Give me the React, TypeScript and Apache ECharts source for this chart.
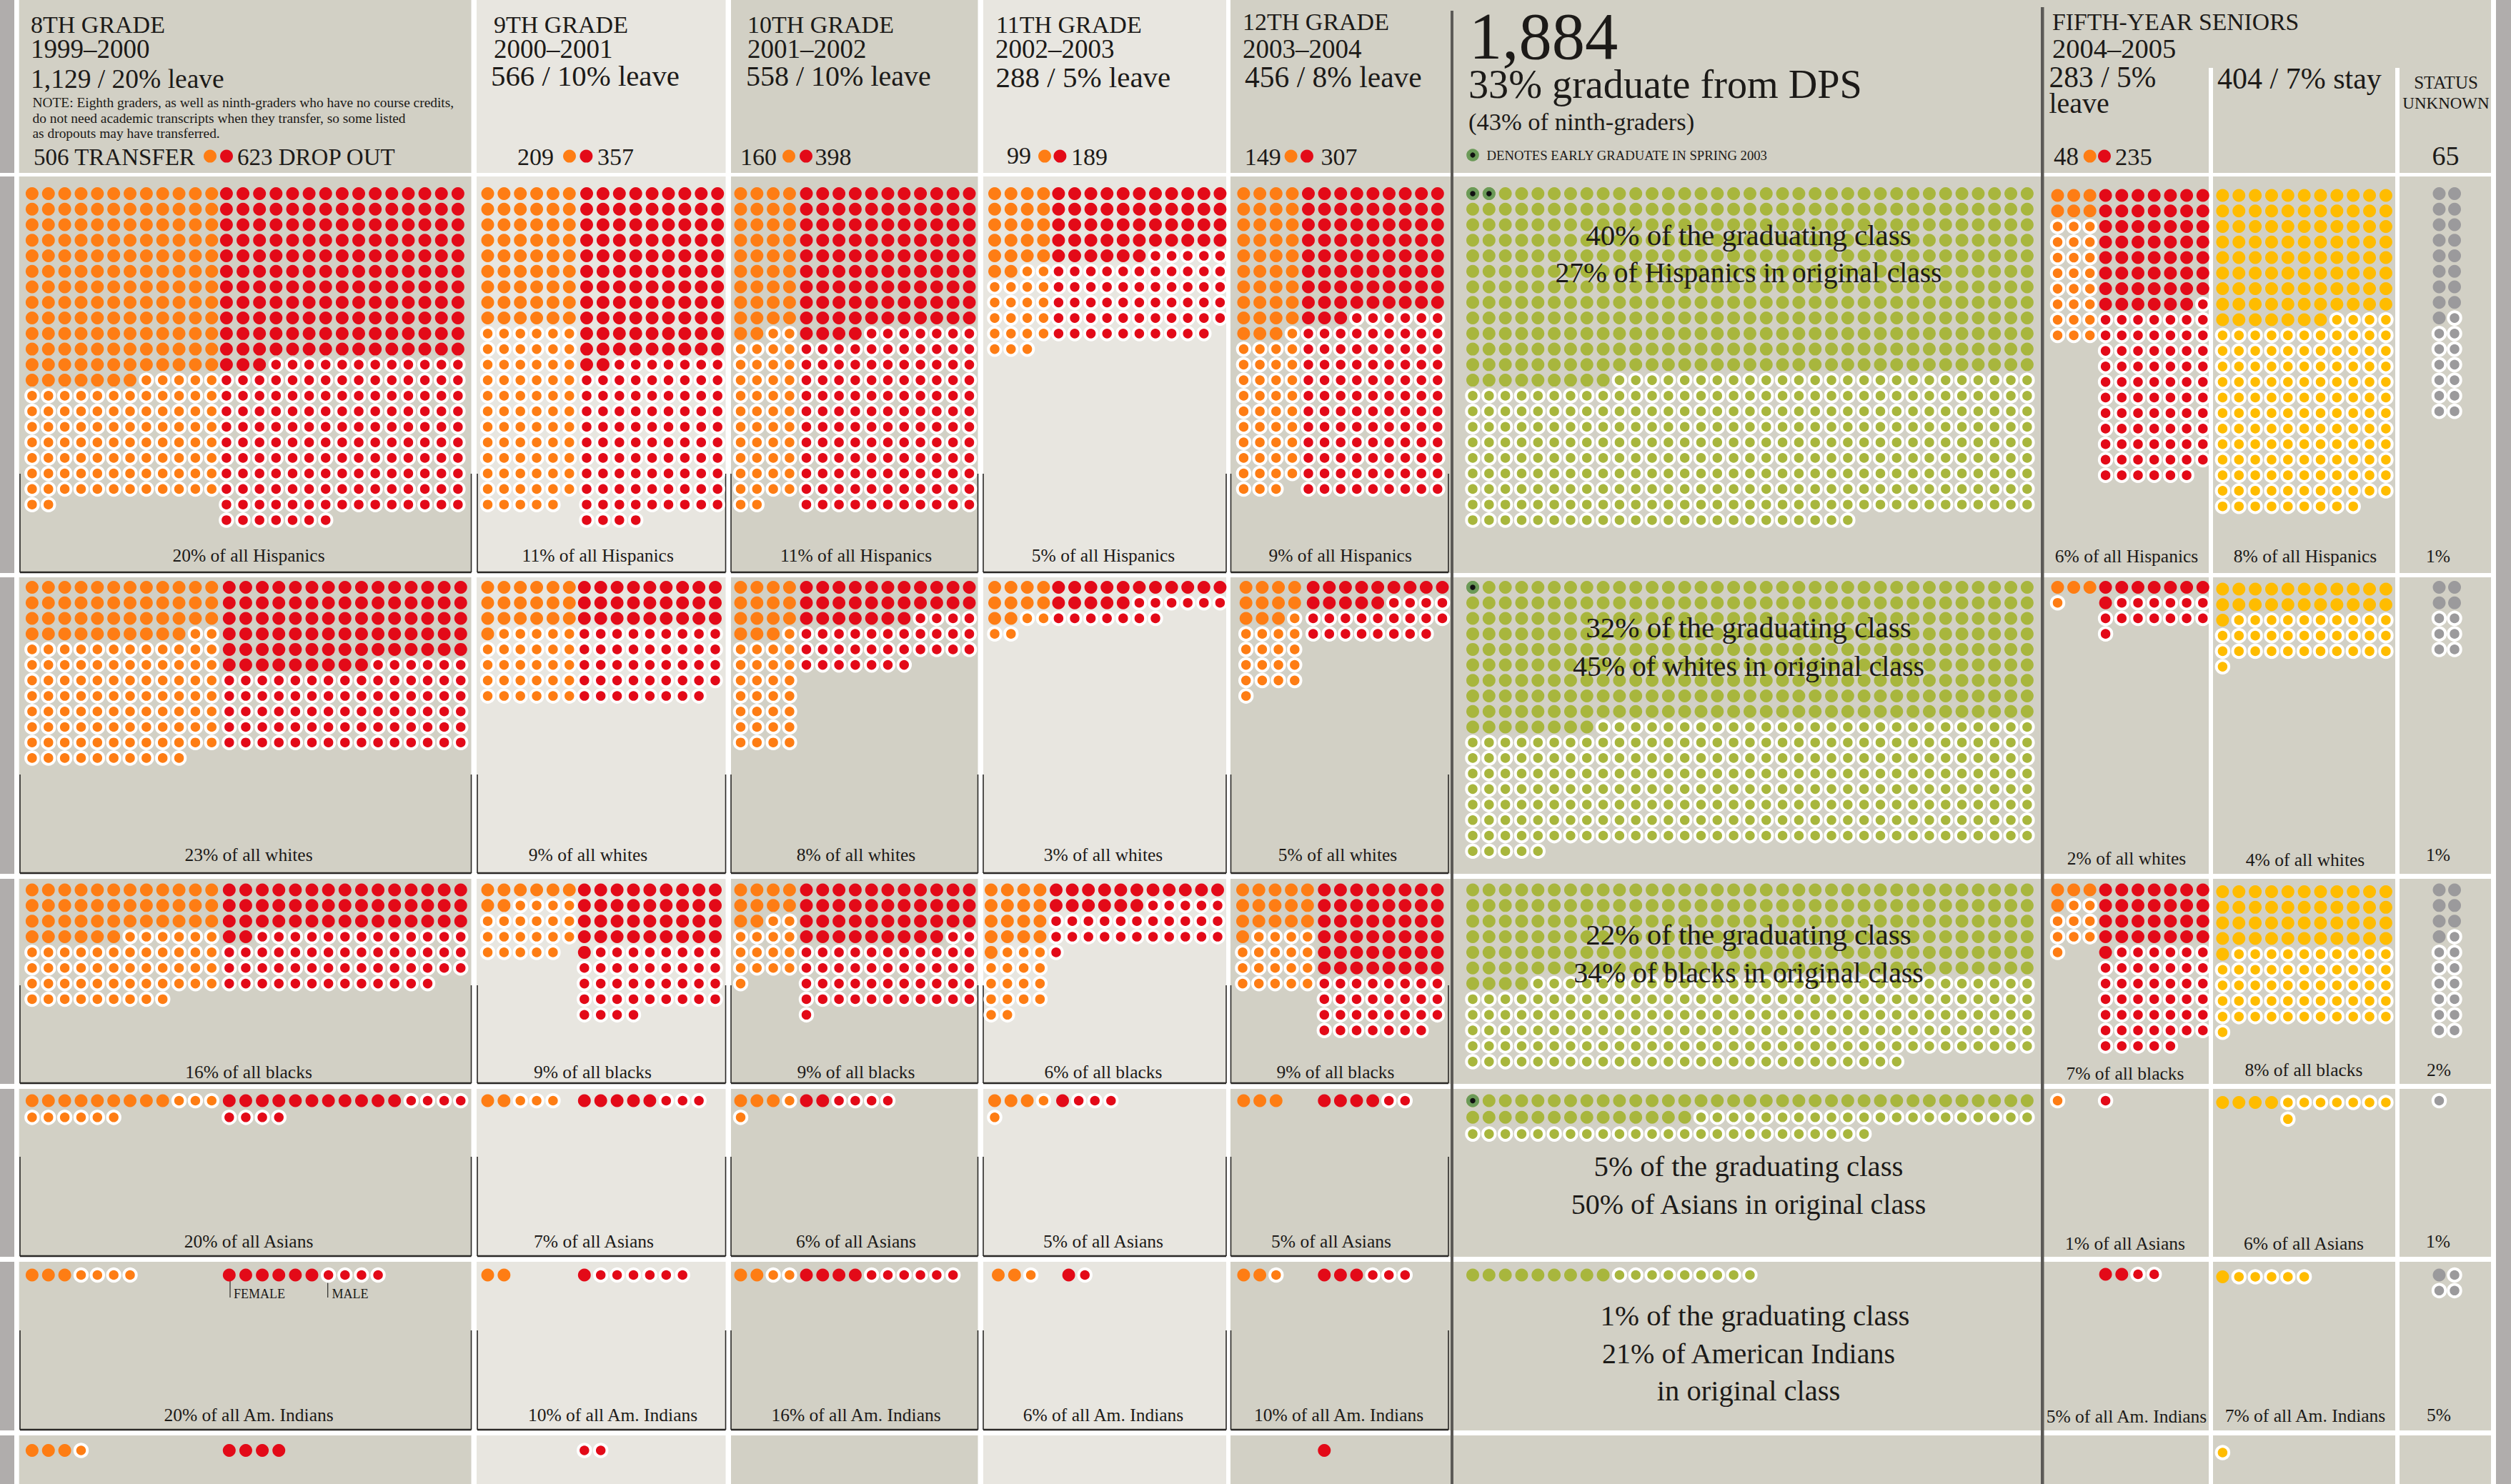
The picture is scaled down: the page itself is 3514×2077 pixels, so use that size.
import React, { useEffect, useRef } from "react";
import * as echarts from "echarts";

// [coloured = filled dots, total dots] per race: Hispanics, whites, blacks, Asians, Am. Indians, other
const grade8Transfer = [[151, 242], [46, 142], [42, 93], [9, 18], [3, 7], [3, 4]];
const grade8Dropout = [[168, 322], [84, 165], [47, 103], [11, 19], [6, 10], [4, 4]];
const grade9Transfer = [[54, 125], [19, 48], [8, 29], [2, 5], [2, 2], [0, 0]];
const grade9Dropout = [[101, 193], [27, 71], [37, 76], [5, 8], [1, 7], [0, 2]];
const grade10Transfer = [[38, 82], [15, 44], [10, 25], [3, 5], [2, 4], [0, 0]];
const grade10Dropout = [[103, 231], [29, 62], [42, 89], [2, 6], [4, 10], [0, 0]];
const grade11Transfer = [[22, 43], [10, 14], [17, 34], [3, 5], [2, 3], [0, 0]];
const grade11Dropout = [[50, 109], [16, 29], [17, 45], [1, 4], [1, 2], [0, 0]];
const grade12Transfer = [[39, 79], [11, 29], [16, 35], [3, 3], [2, 3], [0, 0]];
const grade12Dropout = [[75, 180], [14, 35], [48, 79], [4, 6], [3, 6], [1, 1]];
const graduates = [[429, 759], [323, 600], [214, 412], [49, 95], [9, 18], [0, 0]];
const earlyGraduates = [2, 1, 0, 1, 0, 0];
const fifthTransfer = [[6, 30], [3, 4], [4, 13], [0, 1], [0, 0], [0, 0]];
const fifthDropout = [[55, 132], [8, 22], [29, 75], [0, 1], [2, 4], [0, 0]];
const fifthStay = [[95, 229], [23, 56], [45, 100], [4, 12], [1, 6], [0, 1]];
const statusUnknown = [[17, 30], [4, 10], [7, 20], [0, 1], [1, 4], [0, 0]];

const C = {
  dark: "#d2d0c5", light: "#e8e6e0", margin: "#b0adac", ink: "#1c1a18", line: "#5c5a57",
  orange: "#fe7d14", red: "#e30a18", yellow: "#ffbc00", green: "#a8b63d", grey: "#9b9a9c", early: "#6b9a58",
};
const FONT = "Liberation Serif";

// Layout of the dot blocks
const rowY = [271, 822, 1245.5, 1540.5, 1784.5, 2030];
const rowPitch = [21.76, 21.72, 21.85, 23.3, 21.8, 21.8];
type Block = {
  data: number[][]; color: string; cols: number[] | number; x: number[] | number; dx: number;
  dy?: number[]; wrapCol?: Record<number, number>;
};
const blocks: Block[] = [
  { data: grade8Transfer, color: C.orange, cols: 12, x: 44.9, dx: 22.85 },
  { data: grade8Dropout, color: C.red, cols: 15, x: [316.9, 320.8, 320.8, 320.8, 320.8, 320.8], dx: 23.14 },
  { data: grade9Transfer, color: C.orange, cols: 6, x: 682.5, dx: 22.85 },
  { data: grade9Dropout, color: C.red, cols: 9, x: [821, 817.8, 817.8, 817.8, 817.8, 817.8], dx: 22.9 },
  { data: grade10Transfer, color: C.orange, cols: 4, x: 1036.5, dx: 22.8 },
  { data: grade10Dropout, color: C.red, cols: 11, x: 1128.5, dx: 22.8 },
  { data: grade11Transfer, color: C.orange, cols: 4, x: [1392, 1392, 1387, 1392, 1397, 1392], dx: 22.8 },
  { data: grade11Dropout, color: C.red, cols: 11, x: [1481.4, 1481.4, 1478, 1487, 1495.6, 1481], dx: 22.6 },
  { data: grade12Transfer, color: C.orange, cols: [4, 4, 5, 4, 4, 4], x: [1740.4, 1743.7, 1739, 1740.4, 1740.4, 1740], dx: 22.7 },
  { data: grade12Dropout, color: C.red, cols: [9, 9, 8, 8, 8, 8], x: [1831, 1837.7, 1853.3, 1853.3, 1853.3, 1853.3], dx: 22.6 },
  { data: graduates, color: C.green, cols: 35, x: 2061, dx: 22.82 },
  { data: fifthTransfer, color: C.orange, cols: 3, x: 2879.5, dx: 22.6, dy: [2.5, 0, 0, 0, -1, 0] },
  { data: fifthDropout, color: C.red, cols: 7, x: 2946.6, dx: 22.7, dy: [2.5, 0, 0, 0, -1, 0] },
  { data: fifthStay, color: C.yellow, cols: 11, x: 3110.4, dx: 22.85, dy: [2.5, 2.5, 2.5, 2.5, 2.5, 3], wrapCol: { 3: 4 } },
  { data: statusUnknown, color: C.grey, cols: 2, x: 3413.5, dx: 21.5 },
];

function buildDots() {
  const groups: Record<string, { filled: number[][]; hollow: number[][] }> = {};
  const early: number[][] = [];
  blocks.forEach((b) => {
    const g = (groups[b.color] = groups[b.color] || { filled: [], hollow: [] });
    b.data.forEach(([filled, total], race) => {
      const cols = Array.isArray(b.cols) ? b.cols[race] : b.cols;
      const x0 = Array.isArray(b.x) ? b.x[race] : b.x;
      const y0 = rowY[race] + (b.dy ? b.dy[race] : 0);
      const wrap = race === 3 && b.wrapCol ? b.wrapCol[race] : 0;
      for (let i = 0; i < total; i++) {
        const r = Math.floor(i / cols);
        const c = i % cols + (r > 0 ? wrap : 0);
        const pt = [x0 + c * b.dx, y0 + r * rowPitch[race]];
        (i < filled ? g.filled : g.hollow).push(pt);
        if (b.data === graduates && i < earlyGraduates[race]) early.push(pt);
      }
    });
  });
  return { groups, early };
}

// Panel backgrounds
const bands = [[0, 242], [247, 802], [808, 1223], [1230, 1517], [1524, 1759], [1766, 2002], [2009, 2077]];
const panelCols: [number, number, string][] = [
  [0, 20, C.margin], [26.7, 659.5, C.dark], [667, 1015.5, C.light], [1023, 1368.5, C.dark], [1376, 1716, C.light], [1722, 2858, C.dark],
  [2858, 3486, C.dark],
];
const bracketTop = [663, 1084, 1379, 1619, 1862];
const bracketBottom = [801, 1222, 1516, 1758, 2001];
const bracketCols = [[28, 659.5], [668, 1015.5], [1023, 1368.5], [1376, 1716], [1722.5, 2027]];

type T = [number, number, string, number, string?];
const headerTexts: T[] = [
  [43, 46, "8TH GRADE", 34], [43, 81, "1999–2000", 37], [43, 123, "1,129 / 20% leave", 37.5],
  [45.5, 150, "NOTE: Eighth graders, as well as ninth-graders who have no course credits,", 19.4],
  [45.5, 172, "do not need academic transcripts when they transfer, so some listed", 19.4],
  [45.5, 193, "as dropouts may have transferred.", 19.4],
  [47, 231, "506 TRANSFER", 33], [332, 231, "623 DROP OUT", 33],
  [691, 46, "9TH GRADE", 34], [691, 81, "2000–2001", 37], [687, 120, "566 / 10% leave", 40.8],
  [724, 231, "209", 34], [836, 231, "357", 34],
  [1046, 46, "10TH GRADE", 34], [1046, 81, "2001–2002", 37], [1044, 120, "558 / 10% leave", 40],
  [1036, 231, "160", 34], [1140.6, 231, "398", 34],
  [1394, 46, "11TH GRADE", 34], [1393, 81, "2002–2003", 37], [1393.5, 122, "288 / 5% leave", 41],
  [1409, 229, "99", 34], [1499, 231, "189", 34],
  [1739, 42, "12TH GRADE", 34], [1739, 81, "2003–2004", 37], [1742, 122, "456 / 8% leave", 41.5],
  [1741.7, 231, "149", 34], [1848.5, 231, "307", 34],
  [2056, 82.5, "1,884", 92.5], [2055, 137, "33% graduate from DPS", 56.2], [2055, 182, "(43% of ninth-graders)", 34.5],
  [2080.5, 224, "DENOTES EARLY GRADUATE IN SPRING 2003", 18.7],
  [2872, 42, "FIFTH-YEAR SENIORS", 33.7], [2872, 81, "2004–2005", 38.5],
  [2867.5, 122.5, "283 / 5%", 41.5], [2867.5, 158, "leave", 40], [3103, 124.5, "404 / 7% stay", 42],
  [2874, 231, "48", 35], [2960, 231, "235", 34.5],
  [3423, 124, "STATUS", 25, "center"], [3423, 152, "UNKNOWN", 23, "center"], [3422.5, 231, "65", 38, "center"],
  [327, 1817, "FEMALE", 18], [464.5, 1817, "MALE", 18],
];
const LBL = 25.5;
const rowLabelTexts: T[] = [
  [348, 786, "20% of all Hispanics", LBL, "center"], [836.7, 786, "11% of all Hispanics", LBL, "center"],
  [1198, 786, "11% of all Hispanics", LBL, "center"], [1544, 786, "5% of all Hispanics", LBL, "center"],
  [1875.6, 786, "9% of all Hispanics", LBL, "center"], [2976, 787, "6% of all Hispanics", LBL, "center"],
  [3226, 787, "8% of all Hispanics", LBL, "center"], [3412, 787, "1%", LBL, "center"],
  [348, 1205.5, "23% of all whites", LBL, "center"], [823, 1205.5, "9% of all whites", LBL, "center"],
  [1198, 1205.5, "8% of all whites", LBL, "center"], [1544, 1205.5, "3% of all whites", LBL, "center"],
  [1872, 1205.5, "5% of all whites", LBL, "center"], [2976, 1210, "2% of all whites", LBL, "center"],
  [3226, 1212, "4% of all whites", LBL, "center"], [3412, 1205, "1%", LBL, "center"],
  [348, 1509, "16% of all blacks", LBL, "center"], [829.5, 1509, "9% of all blacks", LBL, "center"],
  [1198, 1509, "9% of all blacks", LBL, "center"], [1544, 1509, "6% of all blacks", LBL, "center"],
  [1869, 1509, "9% of all blacks", LBL, "center"], [2974, 1511, "7% of all blacks", LBL, "center"],
  [3224, 1506.5, "8% of all blacks", LBL, "center"], [3413, 1506, "2%", LBL, "center"],
  [348, 1746, "20% of all Asians", LBL, "center"], [831, 1746, "7% of all Asians", LBL, "center"],
  [1198, 1746, "6% of all Asians", LBL, "center"], [1544, 1746, "5% of all Asians", LBL, "center"],
  [1863, 1746, "5% of all Asians", LBL, "center"], [2974, 1749, "1% of all Asians", LBL, "center"],
  [3224, 1749, "6% of all Asians", LBL, "center"], [3412, 1746, "1%", LBL, "center"],
  [348, 1989, "20% of all Am. Indians", LBL, "center"], [857.5, 1989, "10% of all Am. Indians", LBL, "center"],
  [1198, 1989, "16% of all Am. Indians", LBL, "center"], [1544, 1989, "6% of all Am. Indians", LBL, "center"],
  [1873.5, 1989, "10% of all Am. Indians", LBL, "center"], [2976, 1991.5, "5% of all Am. Indians", LBL, "center"],
  [3226, 1990, "7% of all Am. Indians", LBL, "center"], [3413, 1989, "5%", LBL, "center"],
];
const gradTexts: T[] = [
  [2447, 343, "40% of the graduating class", 41, "center"], [2447, 395, "27% of Hispanics in original class", 39.5, "center"],
  [2447, 892, "32% of the graduating class", 41, "center"], [2447, 946, "45% of whites in original class", 39.8, "center"],
  [2447, 1322, "22% of the graduating class", 41, "center"], [2447, 1375, "34% of blacks in original class", 39.8, "center"],
  [2447, 1646, "5% of the graduating class", 40.8, "center"], [2447, 1699, "50% of Asians in original class", 40, "center"],
  [2456, 1855, "1% of the graduating class", 40.8, "center"], [2447, 1908, "21% of American Indians", 40, "center"],
  [2447, 1960, "in original class", 40.5, "center"],
];
const legendDots: [number, number, string][] = [
  [294, 218.6, C.orange], [317, 218.6, C.red], [797, 218.6, C.orange], [820.4, 218.6, C.red],
  [1104, 218.6, C.orange], [1128, 218.6, C.red], [1462, 218.6, C.orange], [1483.4, 218.6, C.red],
  [1806.6, 218.6, C.orange], [1829, 218.6, C.red], [2924.7, 218.6, C.orange], [2945, 218.6, C.red],
];

function buildGraphic() {
  const els: any[] = [];
  const rect = (x: number, y: number, w: number, h: number, fill: string, z = 0) =>
    els.push({ type: "rect", z, silent: true, shape: { x, y, width: w, height: h }, style: { fill } });
  const line = (x1: number, y1: number, x2: number, y2: number, w = 1.6) =>
    els.push({ type: "line", z: 1, silent: true, shape: { x1, y1, x2, y2 }, style: { stroke: "#2a2826", lineWidth: w } });
  panelCols.forEach(([x0, x1, fill]) => bands.forEach(([y0, y1]) => rect(x0, y0, x1 - x0, y1 - y0, fill)));
  rect(3493, 0, 21, 2077, C.margin);
  rect(3091, 95, 6, 1982, "#ffffff", 1);
  rect(3352, 95, 6, 1982, "#ffffff", 1);
  rect(2030, 15, 4, 2062, C.line, 30);
  rect(2856, 10, 4.5, 2067, C.line, 30);
  bracketTop.forEach((top, i) => {
    const bottom = bracketBottom[i];
    bracketCols.forEach(([a, b]) => {
      line(a, top, a, bottom);
      line(b, top, b, bottom);
      line(a, bottom, b, bottom, 2.4);
    });
  });
  line(322, 1784.5, 322, 1816, 1.2);
  line(458.7, 1795.5, 458.7, 1816, 1.2);
  legendDots.forEach(([cx, cy, fill]) =>
    els.push({ type: "circle", z: 3, silent: true, shape: { cx, cy, r: 9 }, style: { fill } })
  );
  els.push({ type: "circle", z: 3, silent: true, shape: { cx: 2061, cy: 217, r: 8.8 }, style: { fill: C.early } });
  els.push({ type: "circle", z: 3, silent: true, shape: { cx: 2061, cy: 217, r: 3.6 }, style: { fill: "#111" } });
  [...headerTexts, ...rowLabelTexts, ...gradTexts].forEach(([x, base, text, size, align]) =>
    els.push({
      type: "text", z: 20, silent: true, x, y: base - 0.3375 * size,
      style: { text, fill: C.ink, fontFamily: FONT, fontSize: size, textAlign: align || "left", textVerticalAlign: "middle" },
    })
  );
  return els;
}

export default function App() {
  const ref = useRef<HTMLDivElement>(null);
  useEffect(() => {
    document.body.style.margin = "0";
    const chart = echarts.init(ref.current!, undefined, { renderer: "svg" });
    const { groups, early } = buildDots();
    const series: any[] = [];
    Object.entries(groups).forEach(([color, g]) => {
      series.push({
        type: "scatter", z: 5, silent: true, data: g.hollow, symbolSize: 17.5,
        itemStyle: { color, opacity: 1, borderColor: "#fff", borderWidth: 4 },
      });
    });
    Object.entries(groups).forEach(([color, g]) => {
      series.push({
        type: "scatter", z: 6, silent: true, data: g.filled, symbolSize: 18,
        itemStyle: { color, opacity: 1 },
      });
    });
    series.push({ type: "scatter", z: 7, silent: true, data: early, symbolSize: 18, itemStyle: { color: C.early, opacity: 1 } });
    series.push({ type: "scatter", z: 8, silent: true, data: early, symbolSize: 7.5, itemStyle: { color: "#111", opacity: 1 } });
    chart.setOption({
      animation: false,
      backgroundColor: "#ffffff",
      grid: { left: 0, right: 0, top: 0, bottom: 0 },
      xAxis: { type: "value", min: 0, max: 3514, show: false },
      yAxis: { type: "value", min: 0, max: 2077, inverse: true, show: false },
      graphic: { elements: buildGraphic() },
      series,
    });
    return () => chart.dispose();
  }, []);
  return <div ref={ref} style={{ position: "absolute", left: 0, top: 0, width: 3514, height: 2077 }} />;
}
